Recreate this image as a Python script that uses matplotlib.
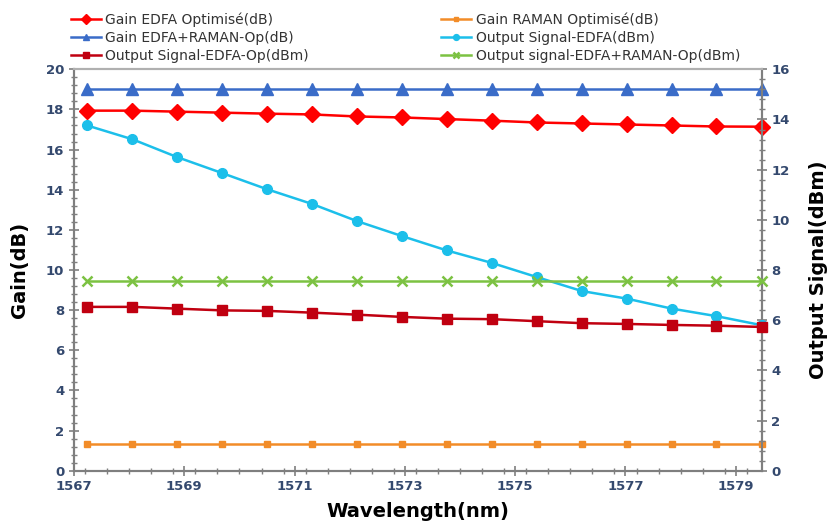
import numpy as np
import matplotlib
matplotlib.use("Agg")
import matplotlib.pyplot as plt
from matplotlib.ticker import MultipleLocator, AutoMinorLocator

# longueurs d'onde des 16 canaux (nm)
wavelength = [1567.24, 1568.06, 1568.87, 1569.69, 1570.50, 1571.32, 1572.13, 1572.95,
              1573.76, 1574.58, 1575.39, 1576.21, 1577.02, 1577.84, 1578.65, 1579.47]

# axe gauche (dB)
gain_edfa_opt = [17.94, 17.94, 17.89, 17.84, 17.79, 17.75, 17.65, 17.60,
                 17.52, 17.44, 17.35, 17.30, 17.25, 17.20, 17.15, 17.14]
gain_raman_opt = [1.35] * 16
gain_edfa_raman = [19.0] * 16

# axe droit (dBm)
out_edfa = [13.76, 13.21, 12.50, 11.86, 11.22, 10.63, 9.95, 9.35,
            8.78, 8.28, 7.72, 7.16, 6.86, 6.46, 6.16, 5.80]
out_edfa_opt = [6.53, 6.53, 6.46, 6.39, 6.37, 6.30, 6.22, 6.13,
                6.06, 6.04, 5.96, 5.88, 5.85, 5.81, 5.78, 5.73]
out_edfa_raman = [7.55] * 16

tick_col = "#34496E"
spine_col = "#7F7F7F"

fig = plt.figure(figsize=(8.29, 5.30), dpi=100)
ax = fig.add_axes([74/829, 1 - 470.7/530, (761.7 - 74)/829, (470.7 - 69.3)/530])
ax2 = ax.twinx()

l1, = ax.plot(wavelength, gain_edfa_opt, color="#FF0000", lw=1.8, marker="D", ms=8,
              label="Gain EDFA Optimisé(dB)", clip_on=False, zorder=5)
l2, = ax.plot(wavelength, gain_raman_opt, color="#F28C28", lw=1.8, marker="s", ms=4,
              label="Gain RAMAN Optimisé(dB)", clip_on=False, zorder=5)
l3, = ax.plot(wavelength, gain_edfa_raman, color="#3A6CC8", lw=1.8, marker="^", ms=8,
              label="Gain EDFA+RAMAN-Op(dB)", clip_on=False, zorder=5)
l4, = ax2.plot(wavelength, out_edfa, color="#1CBFEA", lw=1.8, marker="o", ms=7,
               label="Output Signal-EDFA(dBm)", clip_on=False, zorder=5)
l5, = ax2.plot(wavelength, out_edfa_opt, color="#C00010", lw=1.8, marker="s", ms=6.5,
               label="Output Signal-EDFA-Op(dBm)", clip_on=False, zorder=5)
l6, = ax2.plot(wavelength, out_edfa_raman, color="#7CC242", lw=1.8, marker="x", ms=7,
               mew=1.8, label="Output signal-EDFA+RAMAN-Op(dBm)", clip_on=False, zorder=5)

ax.set_xlim(1567, 1579.47)
ax.set_ylim(0, 20)
ax2.set_ylim(0, 16)

ax.xaxis.set_major_locator(MultipleLocator(2, offset=1))
ax.xaxis.set_minor_locator(MultipleLocator(0.4))
ax.yaxis.set_major_locator(MultipleLocator(2))
ax.yaxis.set_minor_locator(AutoMinorLocator(5))
ax2.yaxis.set_major_locator(MultipleLocator(2))
ax2.yaxis.set_minor_locator(AutoMinorLocator(5))

for a in (ax, ax2):
    for s in a.spines.values():
        s.set_color(spine_col)
        s.set_linewidth(1.5)
    a.spines["top"].set_linestyle((0, (2, 1)))
    a.spines["top"].set_color("#B0B0B0")
    a.tick_params(which="major", direction="inout", length=7, width=1.2, color=spine_col,
                  labelsize=9.5, labelcolor=tick_col)
    a.tick_params(which="minor", direction="inout", length=4, width=1, color=spine_col)
    for lab in a.get_xticklabels() + a.get_yticklabels():
        lab.set_fontweight("bold")

ax.set_xlabel("Wavelength(nm)", fontsize=14, fontweight="bold", labelpad=6)
ax.set_ylabel("Gain(dB)", fontsize=14, fontweight="bold", labelpad=12)
ax2.set_ylabel("Output Signal(dBm)", fontsize=14, fontweight="bold", labelpad=14)

handles = [l1, l3, l5, l2, l4, l6]
fig.legend(handles=handles, labels=[h.get_label() for h in handles], ncol=2,
           loc="upper left", bbox_to_anchor=(0.07, 1.0), frameon=False,
           fontsize=10, columnspacing=9.5, handlelength=2.2, handletextpad=0.3,
           labelspacing=0.3, markerscale=0.6, labelcolor="#333333")

fig.savefig("out.png", dpi=100)
